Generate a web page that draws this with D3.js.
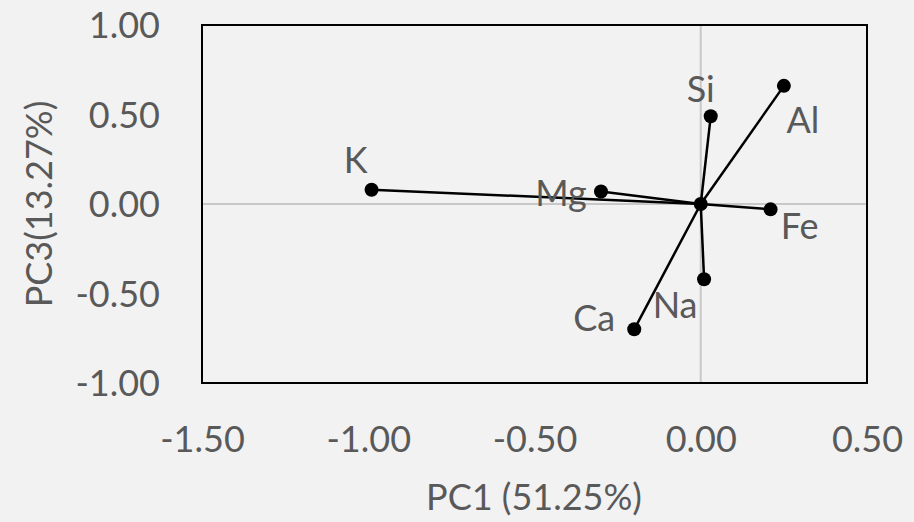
<!DOCTYPE html>
<html>
<head>
<meta charset="utf-8">
<script src="https://cdn.jsdelivr.net/npm/d3@7"></script>
<style>
  body { margin: 0; background: #f2f2f2; }
  svg text { font-family: Lato, "Open Sans", sans-serif; fill: #595959; }
</style>
</head>
<body>
<div id="plot"></div>
<script>
// loadings
var elements = ["K", "Mg", "Si", "Al", "Fe", "Na", "Ca"];
var pc1 = [-0.99, -0.30, 0.03, 0.25, 0.21, 0.01, -0.20];
var pc3 = [0.08, 0.07, 0.49, 0.66, -0.03, -0.42, -0.70];
var xTicks = [-1.5, -1.0, -0.5, 0.0, 0.5];
var yTicks = [-1.0, -0.5, 0.0, 0.5, 1.0];
// label offsets from each point (px)
var labelDx = [-16, -40, -10, 19, 29, -29, -40];
var labelDy = [-17, 15, -14, 47, 30, 39, 2];

var width = 914, height = 522;
var margin = { top: 25, right: 47, bottom: 139, left: 202 };

var svg = d3.select("#plot").append("svg")
    .attr("width", width).attr("height", height);

var x = d3.scaleLinear().domain([-1.5, 0.5]).range([margin.left, width - margin.right]);
var y = d3.scaleLinear().domain([-1, 1]).range([height - margin.bottom, margin.top]);

// zero lines
svg.append("line").attr("x1", x(0)).attr("x2", x(0))
    .attr("y1", y(1)).attr("y2", y(-1))
    .attr("stroke", "#c8c8c8").attr("stroke-width", 2);
svg.append("line").attr("x1", x(-1.5)).attr("x2", x(0.5))
    .attr("y1", y(0)).attr("y2", y(0))
    .attr("stroke", "#c8c8c8").attr("stroke-width", 2);

// plot border
svg.append("rect")
    .attr("x", x(-1.5)).attr("y", y(1))
    .attr("width", x(0.5) - x(-1.5)).attr("height", y(-1) - y(1))
    .attr("fill", "none").attr("stroke", "#000").attr("stroke-width", 2);

var xAxis = d3.axisBottom(x).tickValues(xTicks).tickFormat(d3.format(".2f")).tickSize(0);
var yAxis = d3.axisLeft(y).tickValues(yTicks).tickFormat(d3.format(".2f")).tickSize(0);

var gx = svg.append("g").attr("transform", "translate(0," + (height - margin.bottom) + ")").call(xAxis);
gx.select(".domain").remove();
gx.selectAll("text").attr("font-size", 36).attr("dy", 0).attr("y", 69)
    .text(function(d) { return d3.format(".2f")(d).replace("−", "-"); });

var gy = svg.append("g").attr("transform", "translate(" + margin.left + ",0)").call(yAxis);
gy.select(".domain").remove();
gy.selectAll("text").attr("font-size", 36).attr("x", -42).attr("dy", "0.35em")
    .text(function(d) { return d3.format(".2f")(d).replace("−", "-"); });

// vectors from origin
var line = d3.line().x(function(d) { return x(d[0]); }).y(function(d) { return y(d[1]); });
var g = svg.append("g");
elements.forEach(function(name, i) {
  g.append("path").datum([[0, 0], [pc1[i], pc3[i]]])
      .attr("d", line).attr("stroke", "#000").attr("stroke-width", 2.5).attr("fill", "none");
});
g.append("circle").attr("cx", x(0)).attr("cy", y(0)).attr("r", 7).attr("fill", "#000");
elements.forEach(function(name, i) {
  g.append("circle").attr("cx", x(pc1[i])).attr("cy", y(pc3[i])).attr("r", 7).attr("fill", "#000");
  g.append("text").attr("x", x(pc1[i]) + labelDx[i]).attr("y", y(pc3[i]) + labelDy[i])
      .attr("text-anchor", "middle").attr("font-size", 36).text(name);
});

// axis titles
svg.append("text").attr("x", 534).attr("y", 510).attr("text-anchor", "middle")
    .attr("font-size", 36).text("PC1 (51.25%)");
svg.append("text").attr("transform", "translate(52,204) rotate(-90)")
    .attr("text-anchor", "middle").attr("font-size", 36).text("PC3(13.27%)");
</script>
</body>
</html>
